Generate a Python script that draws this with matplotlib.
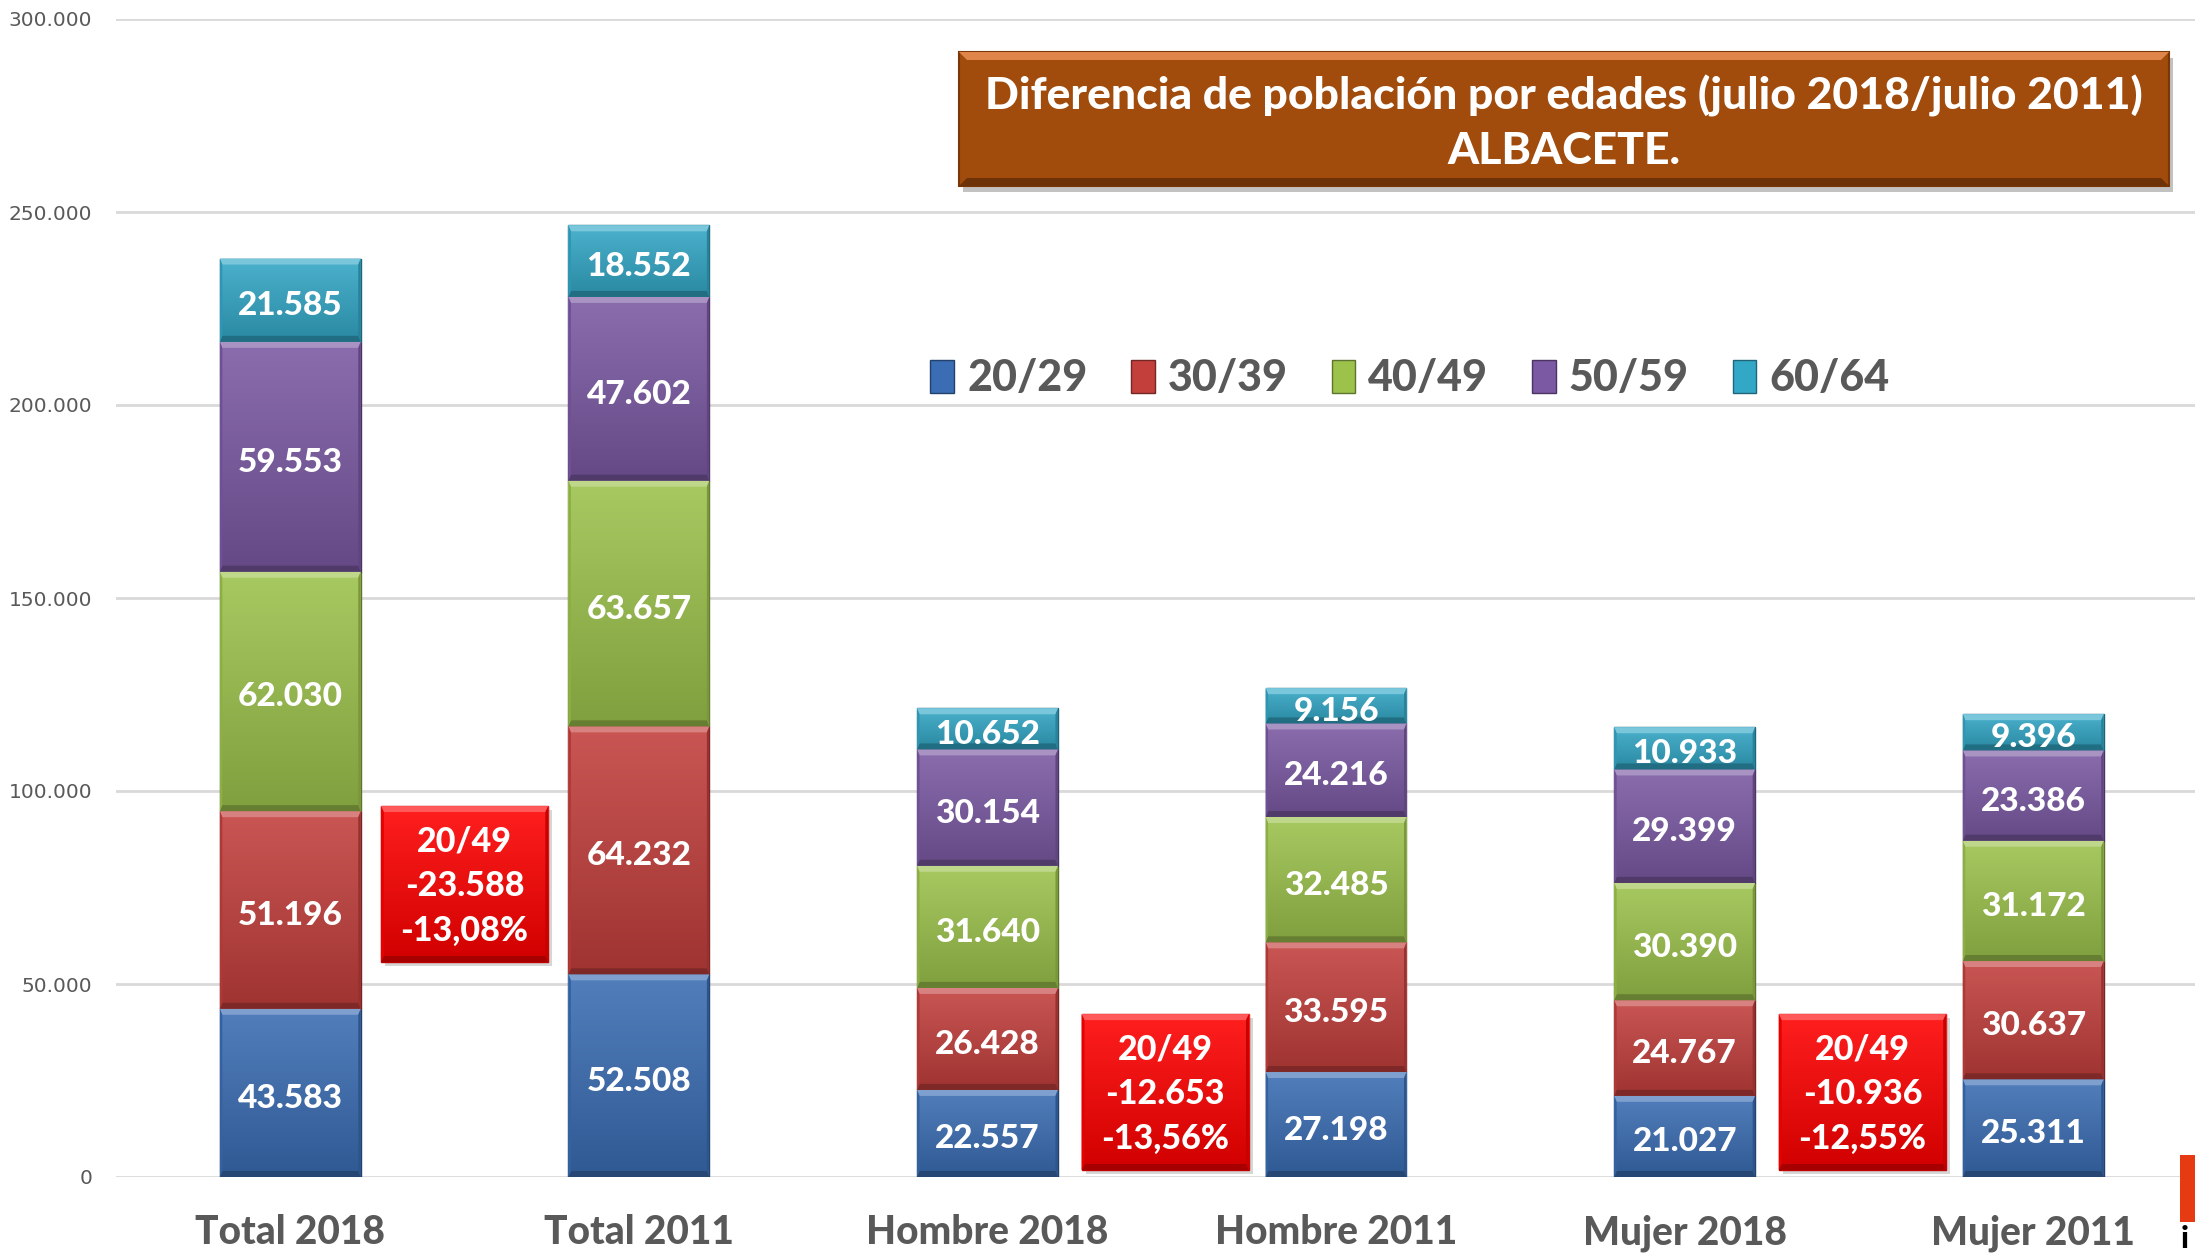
import numpy as np
import matplotlib
matplotlib.use("Agg")
import matplotlib.pyplot as plt
from matplotlib.patches import Rectangle, Polygon
from matplotlib.ticker import FuncFormatter
from matplotlib.colors import to_rgb

# ---------------- data ----------------
categories = ["Total 2018", "Total 2011", "Hombre 2018", "Hombre 2011", "Mujer 2018", "Mujer 2011"]
age_groups = ["20/29", "30/39", "40/49", "50/59", "60/64"]
g20_29 = [43583, 52508, 22557, 27198, 21027, 25311]
g30_39 = [51196, 64232, 26428, 33595, 24767, 30637]
g40_49 = [62030, 63657, 31640, 32485, 30390, 31172]
g50_59 = [59553, 47602, 30154, 24216, 29399, 23386]
g60_64 = [21585, 18552, 10652, 9156, 10933, 9396]
series = [g20_29, g30_39, g40_49, g50_59, g60_64]
colors = ["#3A6DB3", "#C23F3C", "#9CC24C", "#7B59A3", "#33A7C6"]

diff_x = [0.5, 2.51, 4.51]
diff_bottom = [55700, 1800, 1800]
diff_top = [96100, 42200, 42200]
diff_labels = ["20/49\n-23.588\n-13,08%", "20/49\n-12.653\n-13,56%", "20/49\n-10.936\n-12,55%"]

title_text = "Diferencia de población por edades (julio 2018/julio 2011)\nALBACETE."
yticks = [0, 50000, 100000, 150000, 200000, 250000, 300000]

BOLD = ["Lato", "DejaVu Sans"]
WEIGHT = 900
GREY = "#595959"

W, H = 2195, 1253
fig = plt.figure(figsize=(W / 100, H / 100), dpi=100)
fig.patch.set_facecolor("white")
ax = fig.add_axes([116 / W, 1 - 1177 / H, 1 - 116 / W, (1177 - 19) / H])
ax.set_xlim(-0.5, 5.464)
ax.set_ylim(0, 300000)
px = 300000 / (1177 - 19)  # data units per pixel

for s in ax.spines.values():
    s.set_visible(False)
ax.set_yticks(yticks)
ax.yaxis.set_major_formatter(FuncFormatter(lambda v, p: f"{int(v):,}".replace(",", ".")))
ax.tick_params(axis="y", length=0, pad=17, labelsize=14.5, labelcolor=GREY)
for lab in ax.get_yticklabels():
    lab.set_family("DejaVu Sans")
ax.grid(axis="y", color="#D9D9D9", linewidth=2)
ax.set_axisbelow(True)

x = np.arange(len(categories))
ax.set_xticks(x)
ax.set_xticklabels(categories)
ax.tick_params(axis="x", length=0, pad=27, labelsize=28, labelcolor=GREY)
for lab in ax.get_xticklabels():
    lab.set_family(BOLD)
    lab.set_fontweight(WEIGHT)


def shade(c, f):
    r, g, b = to_rgb(c)
    if f >= 1:
        return (r + (1 - r) * (f - 1), g + (1 - g) * (f - 1), b + (1 - b) * (f - 1))
    return (r * f, g * f, b * f)


def bevel_rect(x0, y0, w, h, color, zorder=3, bev_px=8):
    """Gradient + bevel decoration for a rectangle given in data coords."""
    grad = np.linspace(0, 1, 64).reshape(-1, 1)
    top = np.array(shade(color, 1.12))
    bot = np.array(shade(color, 0.82))
    img = top[None, None, :] * (1 - grad[:, :, None]) + bot[None, None, :] * grad[:, :, None]
    im = ax.imshow(img, extent=[x0, x0 + w, y0, y0 + h], origin="upper", aspect="auto",
                   zorder=zorder, interpolation="bilinear")
    clip = Rectangle((x0, y0), w, h, transform=ax.transData)
    im.set_clip_path(clip)
    bx = w * bev_px / 348.2 * 1.0
    by = bev_px * px
    bx = min(bx, w / 4)
    by = min(by, h / 3)
    ax.add_patch(Polygon([(x0, y0 + h), (x0 + w, y0 + h), (x0 + w - bx, y0 + h - by), (x0 + bx, y0 + h - by)],
                         closed=True, facecolor=shade(color, 1.35), edgecolor="none", zorder=zorder + 0.1))
    ax.add_patch(Polygon([(x0, y0), (x0 + w, y0), (x0 + w - bx, y0 + by), (x0 + bx, y0 + by)],
                         closed=True, facecolor=shade(color, 0.65), edgecolor="none", zorder=zorder + 0.1))
    ax.add_patch(Polygon([(x0, y0), (x0 + bx, y0 + by), (x0 + bx, y0 + h - by), (x0, y0 + h)],
                         closed=True, facecolor=shade(color, 0.9), edgecolor="none", zorder=zorder + 0.1))
    ax.add_patch(Polygon([(x0 + w, y0), (x0 + w - bx, y0 + by), (x0 + w - bx, y0 + h - by), (x0 + w, y0 + h)],
                         closed=True, facecolor=shade(color, 0.78), edgecolor="none", zorder=zorder + 0.1))


bar_w = 0.404
bottom = np.zeros(len(categories))
handles = []
for vals, col, name in zip(series, colors, age_groups):
    vals = np.array(vals, dtype=float)
    bars = ax.bar(x, vals, bar_w, bottom=bottom, color=col, edgecolor=shade(col, 0.6),
                  linewidth=1.0, label=name, zorder=2)
    handles.append(bars)
    for p, v in zip(bars.patches, vals):
        bevel_rect(p.get_x(), p.get_y(), p.get_width(), p.get_height(), col, zorder=3, bev_px=6)
        ax.text(p.get_x() + p.get_width() / 2, p.get_y() + p.get_height() / 2 - 5.5 * px,
                f"{int(v):,}".replace(",", "."), ha="center", va="center", color="white",
                fontsize=24, fontweight=WEIGHT, family=BOLD, zorder=6)
    bottom += vals

# difference boxes
box_w = 0.48
for bx_, b0, b1, lab in zip(diff_x, diff_bottom, diff_top, diff_labels):
    ax.add_patch(Rectangle((bx_ - box_w / 2 + 0.012, b0 - 4 * px), box_w, b1 - b0,
                           facecolor="#BBBBBB", edgecolor="none", alpha=0.6, zorder=4))
    ax.add_patch(Rectangle((bx_ - box_w / 2, b0), box_w, b1 - b0, facecolor="#FF0000",
                           edgecolor="#C00000", linewidth=1, zorder=4.5))
    bevel_rect(bx_ - box_w / 2, b0, box_w, b1 - b0, "#FF0000", zorder=4.6, bev_px=6)
    ax.text(bx_, (b0 + b1) / 2 - 2 * px, lab, ha="center", va="center", color="white",
            fontsize=24.5, fontweight=WEIGHT, family=BOLD, linespacing=1.48, zorder=7)

# legend
leg = fig.legend(handles=handles, labels=age_groups, loc="center", ncol=5,
                 bbox_to_anchor=(1410 / W, 1 - 378 / H), frameon=False,
                 prop={"family": BOLD, "weight": WEIGHT, "size": 31},
                 handlelength=0.55, handleheight=0.8, handletextpad=0.3, columnspacing=1.02)
for t in leg.get_texts():
    t.set_color(GREY)

# title box (figure coords)
tx0, ty0, tx1, ty1 = 959 / W, 1 - 186 / H, 2169 / W, 1 - 52 / H
fig.patches.append(Rectangle((tx0 + 4 / W, ty0 - 6 / H), tx1 - tx0, ty1 - ty0, transform=fig.transFigure,
                             facecolor="#9A9A9A", edgecolor="none", alpha=0.6, zorder=1))
fig.patches.append(Rectangle((tx0, ty0), tx1 - tx0, ty1 - ty0, transform=fig.transFigure,
                             facecolor="#A14B0C", edgecolor="#7A3608", linewidth=1.5, zorder=2))
bw, bh = 8 / W, 8 / H
fig.patches.append(Polygon([(tx0, ty1), (tx1, ty1), (tx1 - bw, ty1 - bh), (tx0 + bw, ty1 - bh)],
                           closed=True, transform=fig.transFigure, facecolor="#E0854A",
                           edgecolor="none", zorder=3))
fig.patches.append(Polygon([(tx0, ty0), (tx1, ty0), (tx1 - bw, ty0 + bh), (tx0 + bw, ty0 + bh)],
                           closed=True, transform=fig.transFigure, facecolor="#6E3208",
                           edgecolor="none", zorder=3))
fig.text((tx0 + tx1) / 2, (ty0 + ty1) / 2 - 4 / H, title_text, ha="center", va="center", color="white",
         fontsize=32, fontweight=WEIGHT, family=BOLD, linespacing=1.45, zorder=5)

# logo fragment at bottom-right edge
fig.patches.append(Rectangle((2180 / W, 1 - 1222 / H), 15 / W, 67 / H, transform=fig.transFigure,
                             facecolor="#E63A12", edgecolor="none", zorder=2))
fig.text(2181 / W, 1 - 1253 / H, "i", ha="left", va="bottom", color="black", fontsize=22,
         fontweight=WEIGHT, family=BOLD)

fig.savefig("out.png", dpi=100)
